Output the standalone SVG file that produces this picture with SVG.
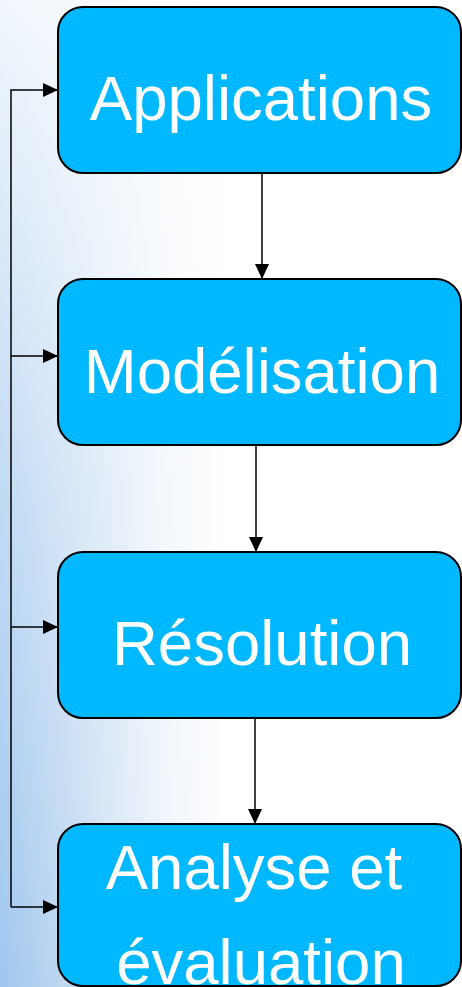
<svg xmlns="http://www.w3.org/2000/svg" width="462" height="987" viewBox="0 0 462 987">
<defs>
<linearGradient id="bgH" x1="0" y1="0" x2="1" y2="0">
<stop offset="0" stop-color="#9fc7ef"/>
<stop offset="0.15" stop-color="#c2d9f2"/>
<stop offset="0.35" stop-color="#eef4fb"/>
<stop offset="0.5" stop-color="#ffffff"/>
<stop offset="1" stop-color="#ffffff"/>
</linearGradient>
<linearGradient id="bgV" x1="0" y1="0" x2="0" y2="1">
<stop offset="0" stop-color="#ffffff" stop-opacity="0.85"/>
<stop offset="0.5" stop-color="#ffffff" stop-opacity="0.35"/>
<stop offset="1" stop-color="#ffffff" stop-opacity="0"/>
</linearGradient>
<marker id="arr" viewBox="0 0 15 14" refX="15" refY="7" markerWidth="15" markerHeight="14" markerUnits="userSpaceOnUse" orient="auto">
<path d="M0,0 L15,7 L0,14 Z" fill="#000"/>
</marker>
<style>
.box{fill:#00b8ff;stroke:#000;stroke-width:2}
.lbl{font-family:"Liberation Sans",Arial,sans-serif;font-size:63.5px;fill:#fff;text-anchor:middle}
.con{stroke:#000;stroke-width:1.5;fill:none}
</style>
</defs>
<rect x="0" y="0" width="462" height="987" fill="url(#bgH)"/>
<rect x="0" y="0" width="462" height="987" fill="url(#bgV)"/>
<g id="connectors">
<path class="con" d="M11,907 L11,90 L58,90" marker-end="url(#arr)"/>
<path class="con" d="M11,356 L58,356" marker-end="url(#arr)"/>
<path class="con" d="M11,627 L58,627" marker-end="url(#arr)"/>
<path class="con" d="M11,907 L58,907" marker-end="url(#arr)"/>
<path class="con" d="M262,173 L262,279" marker-end="url(#arr)"/>
<path class="con" d="M256,445 L256,552" marker-end="url(#arr)"/>
<path class="con" d="M255,718 L255,824" marker-end="url(#arr)"/>
</g>
<g id="applications">
<rect class="box" x="58" y="7" width="403" height="166" rx="25"/>
<text class="lbl" x="261" y="120">Applications</text>
</g>
<g id="modelisation">
<rect class="box" x="58" y="279" width="403" height="166" rx="25"/>
<text class="lbl" x="262" y="393">Modélisation</text>
</g>
<g id="resolution">
<rect class="box" x="58" y="552" width="403" height="166" rx="25"/>
<text class="lbl" x="262" y="665">Résolution</text>
</g>
<g id="analyse">
<rect class="box" x="58" y="824" width="403" height="162" rx="25"/>
<text class="lbl" x="254" y="889">Analyse et</text>
<text class="lbl" x="261" y="984">évaluation</text>
</g>
</svg>
